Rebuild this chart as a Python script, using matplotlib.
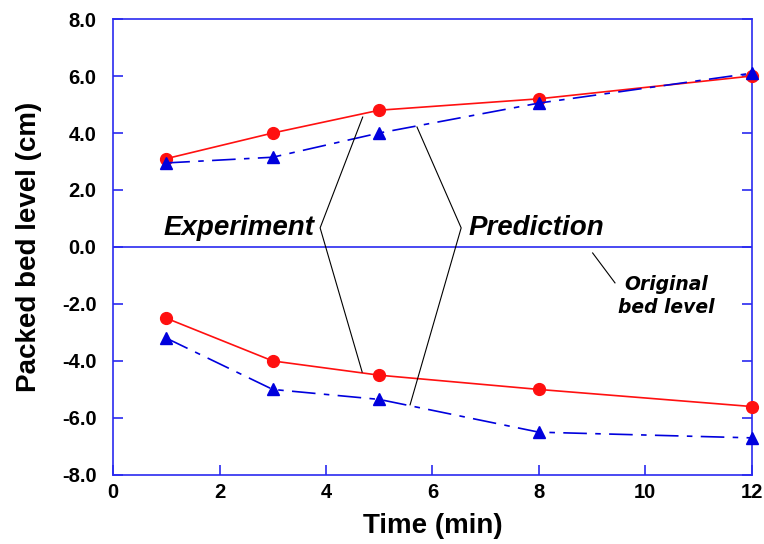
import matplotlib
matplotlib.use("Agg")
import matplotlib.pyplot as plt

# Data
time_min = [1, 3, 5, 8, 12]
exp_upper = [3.1, 4.0, 4.8, 5.2, 6.0]
pred_upper = [2.95, 3.15, 4.0, 5.05, 6.1]
exp_lower = [-2.5, -4.0, -4.5, -5.0, -5.6]
pred_lower = [-3.2, -5.0, -5.35, -6.5, -6.7]
x_ticks = [0, 2, 4, 6, 8, 10, 12]
y_ticks = [-8, -6, -4, -2, 0, 2, 4, 6, 8]
y_tick_labels = ["-8.0", "-6.0", "-4.0", "-2.0", "0.0", "2.0", "4.0", "6.0", "8.0"]

plt.rcParams['lines.scale_dashes'] = False
AX_BLUE = '#2a2af0'
RED = '#ff1010'
BLUE = '#0000dd'

fig = plt.figure(figsize=(7.64, 5.44), dpi=100)
ax = fig.add_axes([0.148, 0.127, 0.836, 0.838])

ax.axhline(0, color=AX_BLUE, lw=1.2, zorder=1)

for yv in (exp_upper, exp_lower):
    ax.plot(time_min, yv, color=RED, lw=1.2, marker='o', markersize=8.5,
            markeredgecolor=RED, zorder=3, clip_on=False)
for yv in (pred_upper, pred_lower):
    ax.plot(time_min, yv, color=BLUE, lw=1.2, marker='^', markersize=8.5,
            markeredgecolor=BLUE, dashes=(17, 6, 4, 6), zorder=4, clip_on=False)

ax.set_xlim(0, 12)
ax.set_ylim(-8, 8)
ax.set_xticks(x_ticks)
ax.set_xticklabels([str(t) for t in x_ticks])
ax.set_yticks(y_ticks)
ax.set_yticklabels(y_tick_labels)

for s in ax.spines.values():
    s.set_color(AX_BLUE)
    s.set_linewidth(1.2)

ax.tick_params(axis='both', direction='in', length=7.5, width=1.2, color=AX_BLUE)
ax.tick_params(axis='y', right=True, pad=12)
ax.tick_params(axis='x', pad=6)
for lab in ax.get_xticklabels() + ax.get_yticklabels():
    lab.set_fontfamily('Liberation Sans')
    lab.set_fontweight('bold')
    lab.set_fontsize(14.5)

ax.set_xlabel('Time (min)', fontfamily='Liberation Sans', fontweight='bold',
              fontsize=20, labelpad=8)
ax.set_ylabel('Packed bed level (cm)', fontfamily='Liberation Sans', fontweight='bold',
              fontsize=20, labelpad=14)

# Annotations
ax.text(3.78, 0.66, 'Experiment', fontfamily='Liberation Sans', fontweight='bold',
        fontstyle='italic', fontsize=20, ha='right', va='center')
ax.text(6.68, 0.66, 'Prediction', fontfamily='Liberation Sans', fontweight='bold',
        fontstyle='italic', fontsize=20, ha='left', va='center')

ax.plot([4.69, 3.89, 4.68], [4.56, 0.67, -4.39], color='black', lw=0.8, zorder=5)
ax.plot([5.71, 6.54, 5.58], [4.21, 0.67, -5.54], color='black', lw=0.8, zorder=5)
ax.plot([9.01, 9.43], [-0.21, -1.26], color='black', lw=0.8, zorder=5)
ax.text(10.4, -1.72, 'Original\nbed level', fontfamily='DejaVu Sans', fontweight='bold',
        fontstyle='italic', fontsize=13.5, ha='center', va='center', linespacing=1.25)

fig.savefig('out.png', dpi=100)
